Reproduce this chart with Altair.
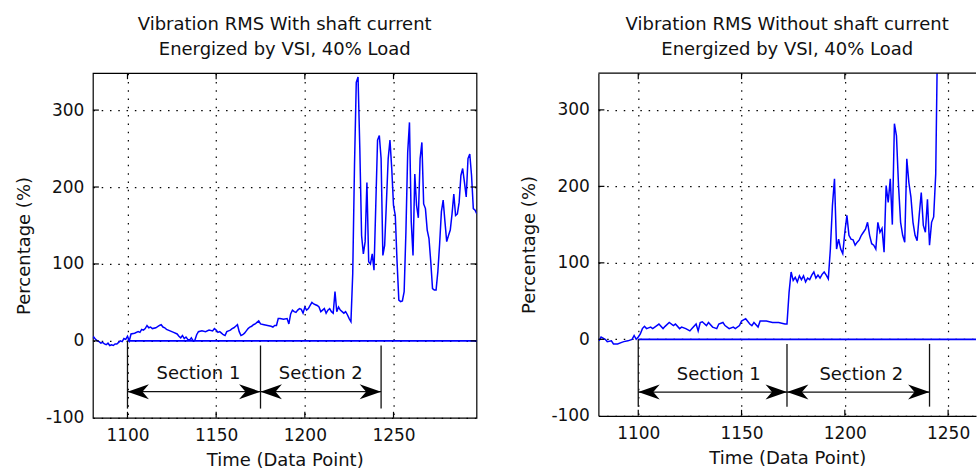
import altair as alt
import pandas as pd

FONT = "DejaVu Sans"

# ---------------- data ----------------
left_x = [1080, 1081, 1082, 1083, 1084, 1085, 1086, 1087, 1088, 1089, 1090, 1091, 1092, 1093, 1094,
          1095, 1096, 1097, 1098, 1099, 1100, 1101, 1102, 1104, 1106, 1107, 1108, 1109, 1110, 1111,
          1112, 1113, 1114, 1116, 1118, 1119, 1120, 1121, 1122, 1124, 1126, 1128, 1129, 1130, 1131,
          1132, 1133, 1134, 1135, 1136, 1137, 1138, 1139, 1140, 1142, 1144, 1146, 1148, 1149, 1150,
          1151, 1152, 1153, 1154, 1155, 1156, 1157, 1158, 1159, 1160, 1161, 1162, 1163, 1164, 1165,
          1166, 1167, 1168, 1169, 1170, 1171, 1172, 1173, 1174, 1175, 1177, 1179, 1181, 1182, 1183,
          1184, 1185, 1186, 1188, 1190, 1191, 1192, 1193, 1194, 1195, 1196, 1197, 1198, 1199, 1200,
          1201, 1202, 1203, 1204, 1205, 1206, 1207, 1208, 1209, 1210, 1211, 1212, 1213, 1214, 1215,
          1216, 1217, 1218, 1219, 1220, 1221, 1222, 1223, 1224, 1225, 1226, 1227, 1228, 1229, 1230,
          1231, 1232, 1233, 1234, 1235, 1236, 1237, 1238, 1239, 1240, 1241, 1242, 1243, 1244, 1245,
          1246, 1247, 1248, 1249, 1250, 1251, 1252, 1253, 1254, 1255, 1256, 1257, 1258, 1259, 1260,
          1261, 1262, 1263, 1264, 1265, 1266, 1267, 1268, 1269, 1270, 1271, 1272, 1273, 1274, 1275,
          1276, 1277, 1278, 1279, 1280, 1281, 1282, 1283, 1284, 1285, 1286, 1287, 1288, 1289, 1290,
          1291, 1292, 1293, 1294, 1295, 1296, 1297]
left_y = [3, 5, 2, 0, -1, -3, -2, -4, -5, -3, -6, -5, -6, -4, -4,
          -2, 0, -1, 3, 2, 6, 0, 9, 10, 12, 11, 15, 14, 16, 20,
          17, 18, 16, 17, 20, 21, 18, 17, 15, 13, 11, 9, 6, 4, 7,
          3, 5, 2, 1, 4, 0, 1, 8, 12, 13, 12, 14, 13, 16, 14,
          11, 12, 10, 8, 7, 12, 13, 14, 16, 17, 19, 21, 12, 7, 8,
          10, 13, 16, 18, 19, 21, 22, 24, 26, 22, 21, 20, 19, 18, 20,
          20, 29, 29, 28, 29, 22, 35, 40, 38, 37, 40, 42, 41, 36, 44,
          40, 42, 46, 50, 48, 47, 46, 44, 38, 40, 42, 36, 40, 42, 38,
          36, 64, 38, 44, 40, 38, 36, 38, 34, 29, 25, 87, 228, 336, 343,
          250, 137, 113, 129, 206, 103, 100, 113, 92, 176, 261, 267, 237, 111, 124,
          180, 237, 261, 224, 176, 163, 103, 53, 51, 52, 64, 142, 245, 284, 155,
          111, 217, 176, 160, 237, 258, 178, 172, 144, 133, 103, 68, 66, 66, 90,
          126, 168, 183, 155, 129, 137, 144, 165, 191, 163, 165, 180, 215, 224, 206,
          187, 237, 243, 215, 172, 170, 165]

right_x = [1081, 1082, 1084, 1085, 1087, 1088, 1090, 1092, 1093, 1095, 1097, 1098, 1099, 1100, 1101,
           1102, 1103, 1104, 1105, 1106, 1107, 1109, 1110, 1112, 1113, 1115, 1117, 1118, 1120, 1121,
           1123, 1125, 1126, 1128, 1129, 1130, 1131, 1133, 1134, 1136, 1138, 1139, 1141, 1142, 1144,
           1146, 1147, 1149, 1150, 1152, 1154, 1155, 1156, 1158, 1159, 1162, 1165, 1168, 1171, 1172,
           1173, 1174, 1175, 1176, 1177, 1178, 1179, 1180, 1181, 1182, 1183, 1184, 1185, 1186, 1187,
           1188, 1189, 1190, 1191, 1192, 1193, 1194, 1195, 1196, 1197, 1198, 1199, 1200, 1201, 1202,
           1203, 1204, 1205, 1206, 1207, 1208, 1209, 1210, 1211, 1212, 1213, 1214, 1215, 1216, 1217,
           1218, 1219, 1220, 1221, 1222, 1223, 1224, 1225, 1226, 1227, 1228, 1229, 1230, 1231, 1232,
           1233, 1234, 1235, 1236, 1237, 1238, 1239, 1240, 1241, 1242, 1243, 1244, 1245]
right_y = [-2, 3, 0, -3, -2, -6, -6, -4, -3, -2, 0, 5, 0, 3, 7,
           14, 17, 14, 15, 16, 14, 18, 20, 14, 17, 22, 18, 20, 14, 16,
           14, 11, 14, 20, 11, 22, 23, 18, 22, 16, 14, 20, 22, 18, 14,
           16, 14, 18, 24, 27, 20, 18, 22, 16, 24, 24, 22, 22, 20, 20,
           61, 88, 77, 81, 75, 83, 78, 83, 75, 80, 78, 84, 88, 80, 84,
           80, 85, 88, 84, 79, 118, 175, 210, 118, 131, 118, 112, 140, 162, 136,
           131, 130, 123, 127, 130, 136, 140, 144, 153, 136, 125, 123, 118, 153, 140,
           145, 114, 201, 179, 210, 150, 282, 266, 201, 153, 136, 127, 236, 205, 186,
           153, 136, 129, 162, 192, 149, 140, 183, 123, 153, 160, 216, 420]

x_tick_values = [1100, 1150, 1200, 1250]
y_tick_values = [-100, 0, 100, 200, 300]
y_domain = [-100, 348]
zero_line_start = 1100

left_title = ["Vibration RMS With shaft current", "Energized by VSI, 40% Load"]
right_title = ["Vibration RMS Without shaft current", "Energized by VSI, 40% Load"]
x_title = "Time (Data Point)"
y_title = "Percentage (%)"

section_names = ["Section 1", "Section 2"]
left_sections = [1100, 1175, 1243]
right_sections = [1100, 1172, 1241]
left_marker_tops = [0, -6, -6]
right_marker_tops = [0, -6, -6]
marker_bottom = -88
left_label_x = [1140, 1209]
right_label_x = [1139, 1208]
left_label_y = -43
right_label_y = -47
left_arrow_y = -66
right_arrow_y = -69

LEFT_PATH = "M0,0L2,-0.7L1.4,0L2,0.7Z"
RIGHT_PATH = "M0,0L-2,-0.7L-1.4,0L-2,0.7Z"


def make_panel(xs, ys, title, xdom, width, height, sections, marker_tops,
               label_x, label_y, arrow_y, boxed):
    xsc = alt.Scale(domain=xdom, nice=False, zero=False)
    ysc = alt.Scale(domain=y_domain, nice=False, zero=False)
    xax = alt.Axis(values=x_tick_values, grid=True, ticks=False, tickSize=0,
                   domain=not boxed, labelPadding=9.5, titlePadding=8,
                   labelExpr="'' + datum.value")
    yax = alt.Axis(values=y_tick_values, grid=True, ticks=False, tickSize=0,
                   domain=not boxed, labelPadding=9, titlePadding=12,
                   labelExpr="'' + datum.value")

    def X(f="x"):
        return alt.X(f + ":Q", scale=xsc, axis=xax, title=x_title)

    def Y(f="y"):
        return alt.Y(f + ":Q", scale=ysc, axis=yax, title=y_title)

    line_df = pd.DataFrame({"x": xs, "y": ys})
    line = alt.Chart(line_df).mark_line(color="#0000ff", strokeWidth=1.5, clip=True).encode(
        x=X(), y=Y())

    zero_df = pd.DataFrame({"x": [zero_line_start], "x2": [xdom[1]], "y": [0]})
    zero = alt.Chart(zero_df).mark_rule(color="#0000ff", strokeWidth=1.6).encode(
        x=X(), x2="x2:Q", y=Y())

    mk_df = pd.DataFrame({"x": sections, "y": marker_tops,
                          "y2": [marker_bottom] * len(sections)})
    markers = alt.Chart(mk_df).mark_rule(color="#111111", strokeWidth=1.3).encode(
        x=X(), y=Y(), y2="y2:Q")

    sh_df = pd.DataFrame({"x": sections[:-1], "x2": sections[1:],
                          "y": [arrow_y] * (len(sections) - 1)})
    shafts = alt.Chart(sh_df).mark_rule(color="#111111", strokeWidth=1.3).encode(
        x=X(), x2="x2:Q", y=Y())

    lh_df = pd.DataFrame({"x": sections[:-1], "y": [arrow_y] * (len(sections) - 1)})
    left_heads = alt.Chart(lh_df).mark_point(shape=LEFT_PATH, size=460, filled=True,
                                             color="#000000", opacity=1, strokeWidth=0).encode(
        x=X(), y=Y())
    rh_df = pd.DataFrame({"x": sections[1:], "y": [arrow_y] * (len(sections) - 1)})
    right_heads = alt.Chart(rh_df).mark_point(shape=RIGHT_PATH, size=460, filled=True,
                                              color="#000000", opacity=1, strokeWidth=0).encode(
        x=X(), y=Y())

    txt_df = pd.DataFrame({"x": label_x, "y": [label_y] * len(label_x), "t": section_names})
    texts = alt.Chart(txt_df).mark_text(font=FONT, fontSize=18, color="#111111",
                                        align="center", baseline="middle").encode(
        x=X(), y=Y(), text="t:N")

    # small inward tick marks (MATLAB style)
    tly = 6 * (y_domain[1] - y_domain[0]) / height
    tlx = 6 * (xdom[1] - xdom[0]) / width
    tk_rows = []
    for v in x_tick_values:
        if xdom[0] < v < xdom[1]:
            tk_rows.append({"x": v, "x2": v, "y": y_domain[0], "y2": y_domain[0] + tly})
            tk_rows.append({"x": v, "x2": v, "y": y_domain[1], "y2": y_domain[1] - tly})
    for v in y_tick_values:
        if y_domain[0] < v < y_domain[1]:
            tk_rows.append({"x": xdom[0], "x2": xdom[0] + tlx, "y": v, "y2": v})
            if boxed:
                tk_rows.append({"x": xdom[1], "x2": xdom[1] - tlx, "y": v, "y2": v})
    ticks = alt.Chart(pd.DataFrame(tk_rows)).mark_rule(color="#000000", strokeWidth=1.2).encode(
        x=X(), x2="x2:Q", y=Y(), y2="y2:Q")

    layers = [line, zero, markers, shafts, left_heads, right_heads, texts, ticks]
    if not boxed:
        top = alt.Chart(pd.DataFrame({"x": [xdom[0]], "x2": [xdom[1]], "y": [y_domain[1]]})).mark_rule(
            color="#000000", strokeWidth=1.2).encode(x=X(), x2="x2:Q", y=Y())
        layers.append(top)

    panel = alt.layer(*layers).properties(
        width=width, height=height,
        title=alt.TitleParams(text=title, font=FONT, fontSize=18, fontWeight="normal",
                              color="#111111", lineHeight=25, offset=14, anchor="middle"),
    )
    if not boxed:
        panel = panel.properties(view=alt.ViewBackground(stroke=None))
    return panel


left = make_panel(left_x, left_y, left_title, [1080.5, 1296.8], 384, 345,
                  left_sections, left_marker_tops, left_label_x, left_label_y,
                  left_arrow_y, True)
right = make_panel(right_x, right_y, right_title, [1080.7, 1263.5], 378, 343,
                   right_sections, right_marker_tops, right_label_x, right_label_y,
                   right_arrow_y, False)

chart = alt.hconcat(left, right, spacing=42).properties(
    padding={"left": 14, "top": 14, "right": 0, "bottom": 0},
    background="white",
).configure_view(stroke="#000000", strokeWidth=1.2).configure_axis(
    labelFont=FONT, labelFontSize=17, labelColor="#111111",
    titleFont=FONT, titleFontSize=18, titleFontWeight="normal", titleColor="#111111",
    gridColor="#000000", gridOpacity=1, gridWidth=1.2, gridDash=[1.5, 6.8],
    domainColor="#000000", domainWidth=1.2,
).configure_concat(spacing=42)

chart.save("out.html", embed_options={"renderer": "svg", "actions": False})
